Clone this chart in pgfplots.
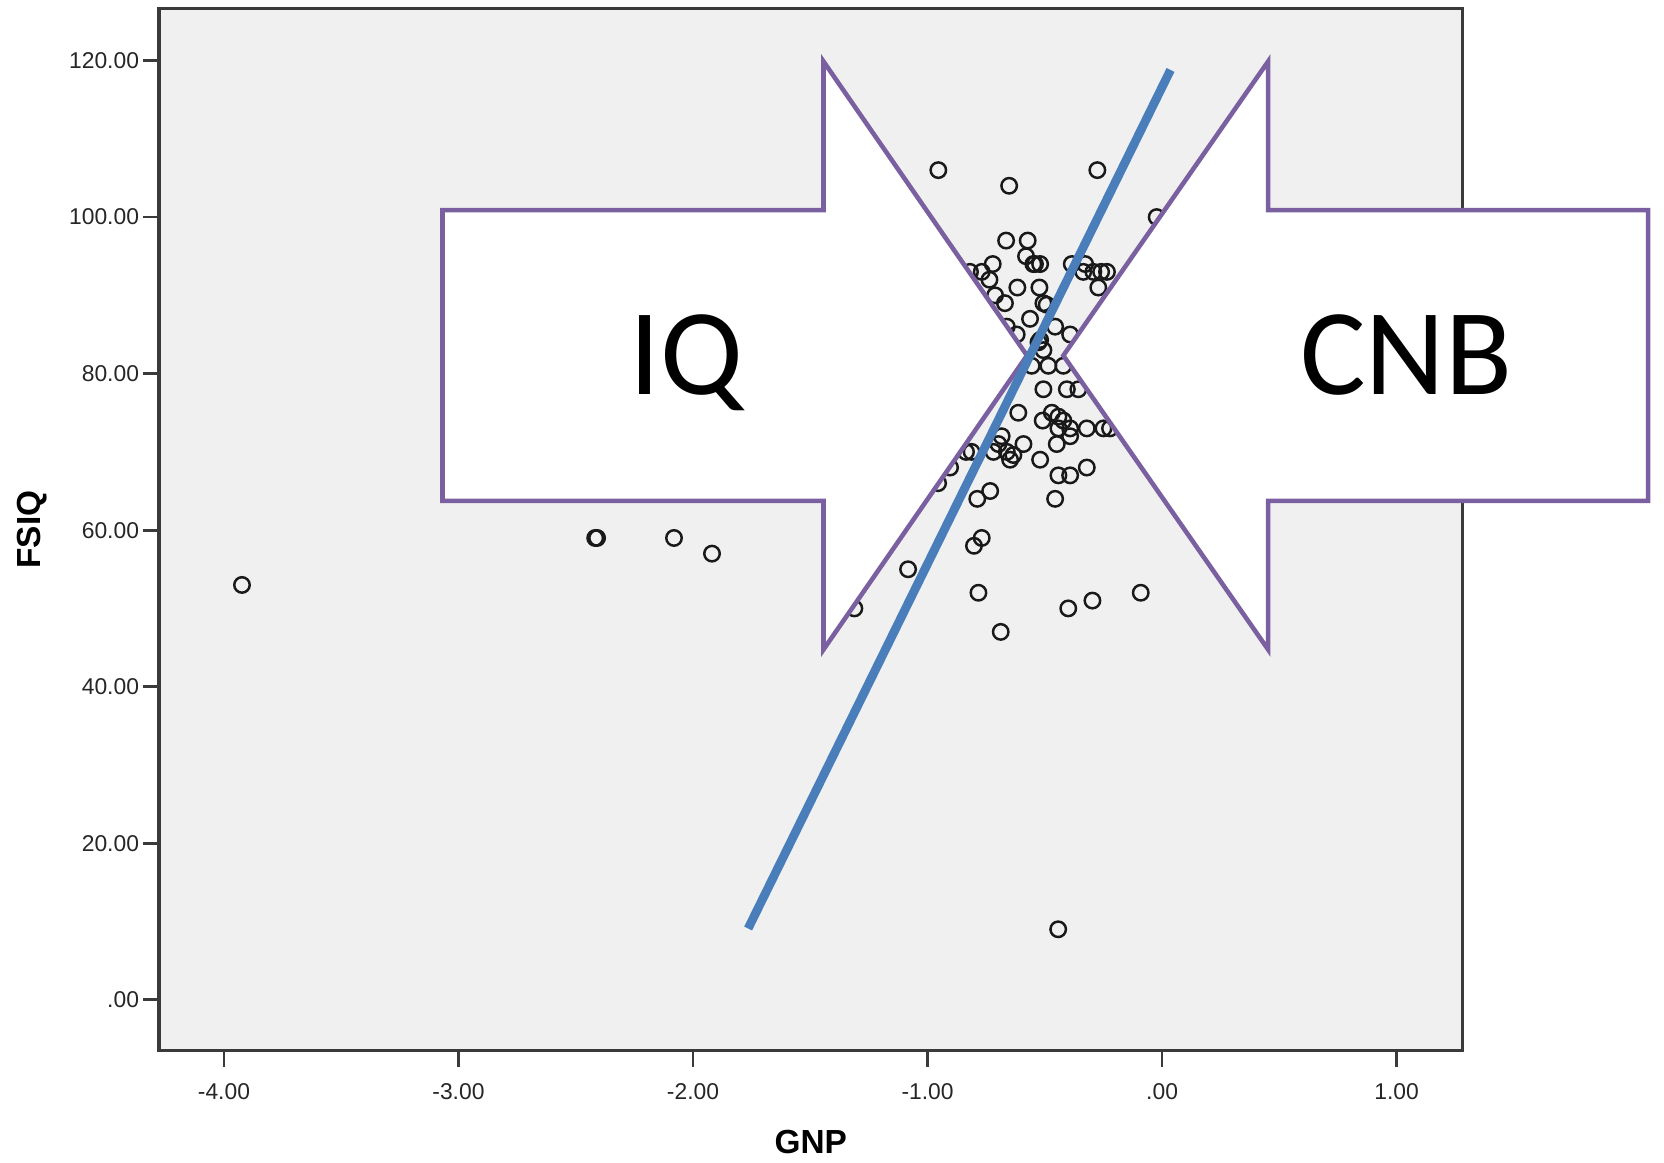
\documentclass[border=0pt]{standalone}
\usepackage{pgfplots}
\pgfplotsset{compat=1.18}
\usepackage{fontspec}
\setmainfont{Liberation Sans}
\newfontfamily\calib{Carlito}
\definecolor{bggray}{HTML}{F0F0F0}
\definecolor{framegray}{HTML}{3A3A3A}
\definecolor{arrowpurple}{HTML}{7A60A0}
\definecolor{lineblue}{HTML}{4A7EBB}
\pgfplotstableread{
x y
-3.923 53
-2.417 59
-2.409 59
-2.081 59
-1.919 57
-1.312 50
-1.083 55
-0.955 66
-0.904 68
-0.954 106
-0.652 104
-0.276 106
-0.023 100
-0.665 97
-0.573 97
-0.580 95
-0.549 94
-0.542 94
-0.722 94
-0.769 93
-0.819 93
-0.736 92
-0.617 91
-0.523 91
-0.712 90
-0.670 89
-0.506 89
-0.563 87
-0.456 86
-0.392 85
-0.620 85
-0.662 86
-0.527 84
-0.506 83
-0.556 81
-0.485 81
-0.421 81
-0.406 78
-0.357 78
-0.506 78
-0.520 94
-0.385 94
-0.328 94
-0.336 93
-0.293 93
-0.260 93
-0.235 93
-0.272 91
-0.613 75
-0.509 74
-0.470 75
-0.442 74.5
-0.421 74
-0.442 73
-0.392 73
-0.321 73
-0.250 73
-0.222 73
-0.449 71
-0.392 72
-0.684 72
-0.698 71
-0.591 71
-0.719 70
-0.812 70
-0.836 70
-0.662 70
-0.634 69.6
-0.648 69
-0.520 69
-0.321 68
-0.442 67
-0.392 67
-0.456 64
-0.788 64
-0.733 65
-0.769 59
-0.802 58
-0.783 52
-0.400 50
-0.297 51
-0.091 52
-0.688 47
-0.443 9
-0.492 88.8
-0.520 84.3
}\scatterdata
\begin{document}
\begin{tikzpicture}
\useasboundingbox (0,0) rectangle (16.64cm,-11.63cm);
\begin{axis}[
  at={(1.592cm,-0.085cm)}, anchor=north west,
  scale only axis, width=13.031cm, height=10.421cm,
  xmin=-4.276, xmax=1.28, ymin=-6.5, ymax=126.65,
  clip=false, clip marker paths=true,
  axis background/.style={fill=bggray},
  axis line style={draw=framegray, line width=1pt},
  xtick={-4,-3,-2,-1,0,1},
  xticklabels={-4.00,-3.00,-2.00,-1.00,.00,1.00},
  ytick={0,20,40,60,80,100,120},
  yticklabels={.00,20.00,40.00,60.00,80.00,100.00,120.00},
  tick align=outside, tick pos=left, major tick length=0.16cm,
  tick style={draw=framegray, line width=0.8pt},
  ticklabel style={font=\fontsize{6.5}{7}\selectfont, text=black!85},
  yticklabel style={inner sep=1pt},
  xticklabel style={yshift=-0.05cm},
  xlabel={GNP}, ylabel={FSIQ},
  xlabel style={font=\fontsize{9.5}{11}\selectfont\bfseries, at={(axis description cs:0.5,-0.0876)}, anchor=center},
  ylabel style={font=\fontsize{9.5}{11}\selectfont\bfseries, at={(axis description cs:-0.0978,0.5)}, anchor=center},
]
\addplot[only marks, mark=o, mark size=2.2pt, mark options={line width=0.7pt, draw=black!90}] table {\scatterdata};
\draw[draw=arrowpurple, line width=1.3pt, fill=white, line join=miter]
  (-3.068,100.9) -- (-1.4435,100.9) -- (-1.4435,119.88) -- (-0.576,82.31)
  -- (-1.4435,44.75) -- (-1.4435,63.74) -- (-3.068,63.74) -- cycle;
\draw[draw=arrowpurple, line width=1.3pt, fill=white, line join=miter]
  (2.0725,100.9) -- (0.452,100.9) -- (0.452,119.88) -- (-0.421,82.31)
  -- (0.452,44.75) -- (0.452,63.74) -- (2.0725,63.74) -- cycle;
\node[font=\calib\fontsize{35}{40}\selectfont, anchor=base] at (-2.03,77.3) {IQ};
\node[font=\calib\fontsize{35}{40}\selectfont, anchor=base] at (1.040,77.3) {CNB};
\addplot[lineblue, line width=2.5pt, line cap=butt] coordinates {(-1.765,9.1) (0.036,118.8)};
\end{axis}
\end{tikzpicture}
\end{document}
